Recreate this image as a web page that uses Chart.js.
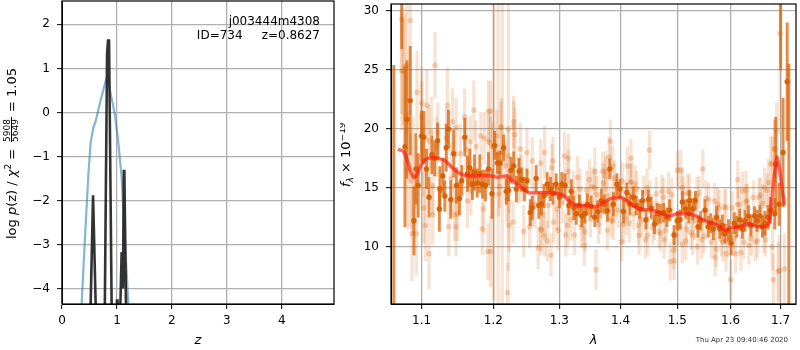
<!DOCTYPE html>
<html lang="en">
<head>
    <meta charset="UTF-8">
    <title>j003444m4308 redshift fit</title>
    <script src="https://cdn.jsdelivr.net/npm/chart.js"></script>
    <style>
        body {
            margin: 0;
            background: #fff;
        }
        canvas {
            position: absolute;
            top: 0;
        }
        #pzChart {
            left: 0;
        }
        #specChart {
            left: 340px;
        }
    </style>
</head>
<body>
    <canvas id="pzChart" width="340" height="350"></canvas>
    <canvas id="specChart" width="460" height="350"></canvas>

    <script>
        // left panel: log p(z) and the blue prior curve
        var zTicks = [0, 1, 2, 3, 4];
        var logPzTicks = [-4, -3, -2, -1, 0, 1, 2];
        var priorZ = [0.30, 0.358, 0.42, 0.478, 0.52, 0.57, 0.61, 0.69, 0.80, 0.842, 0.964, 1.02, 1.085, 1.145, 1.205, 1.23];
        var priorLogP = [-6.0, -4.33, -2.8, -1.45, -0.70, -0.345, -0.21, 0.21, 0.74, 0.70, -0.06, -0.625, -1.46, -2.9, -4.3, -5.0];
        var pzZ = [0.51, 0.565, 0.58, 0.625, 0.775, 0.82, 0.838, 0.856, 0.908, 0.985, 1.0, 1.01, 1.025, 1.05, 1.085, 1.095, 1.11, 1.125, 1.135, 1.17];
        var pzLogP = [-5, -1.88, -1.88, -5, -5, 1.33, 1.63, 1.63, -5, -5, -4.27, -4.27, -5, -5, -3.2, -3.2, -4, -1.33, -1.33, -5];

        // right panel: spectrum, flux in units of 1e-19
        var lamTicks = [1.1, 1.2, 1.3, 1.4, 1.5, 1.6, 1.7];
        var fluxTicks = [10, 15, 20, 25, 30];

        var darkLam = [1.0636, 1.0739, 1.0781, 1.0806, 1.085, 1.0899, 1.0925, 1.0955, 1.1, 1.103, 1.1066, 1.11, 1.114, 1.1177, 1.1217, 1.124, 1.1247, 1.1288, 1.1315, 1.1334, 1.1366, 1.1397, 1.1438, 1.1475, 1.1517, 1.155, 1.1592, 1.163, 1.1662, 1.17, 1.1729, 1.1768, 1.1805, 1.1843, 1.1886, 1.193,
            1.198, 1.202, 1.206, 1.21, 1.215, 1.219, 1.222, 1.226, 1.23, 1.234, 1.238, 1.242, 1.246, 1.25, 1.255, 1.258, 1.264, 1.268, 1.272, 1.276, 1.281, 1.286, 1.29, 1.295, 1.3, 1.304, 1.309, 1.315, 1.319, 1.323, 1.327, 1.332, 1.336, 1.341, 1.345,
            1.351, 1.357, 1.362, 1.368, 1.373, 1.378, 1.382, 1.388, 1.394, 1.399, 1.405, 1.411, 1.416, 1.422, 1.427, 1.433, 1.438, 1.444, 1.448, 1.453, 1.459, 1.464, 1.469, 1.475, 1.481, 1.486, 1.494, 1.5, 1.505, 1.509, 1.515, 1.521,
            1.522, 1.528, 1.533, 1.538, 1.543, 1.551, 1.557, 1.562, 1.567, 1.573, 1.579, 1.584, 1.589, 1.596, 1.601, 1.607, 1.612, 1.618, 1.623, 1.628, 1.635, 1.64, 1.647, 1.652, 1.658, 1.663, 1.668, 1.674, 1.679, 1.688, 1.697, 1.69, 1.7, 1.705, 1.7136, 1.717];
        var darkFlux = [3, 33, 18.5, 20.8, 22.4, 12.2, 16.6, 15.2, 19.4, 19.3, 16.6, 14.2, 17.8, 17.5, 19, 13.2, 14.9, 16, 14.3, 18.4, 20, 14, 17.9, 15.2, 14.1, 15.6, 19.3, 16.2, 16.7, 15.3, 16.3, 15.4, 16.2, 15.3, 15.2, 16.6,
            14.5, 18.6, 17.1, 17.1, 18.4, 14.7, 14.8, 16.5, 16.85, 14.9, 16.4, 15.7, 14.9, 15.6, 12.9, 13.3, 15.8, 13.5, 13.6, 14.3, 15.3, 14.9, 14.5, 15.3, 14.2, 15.3, 15.2, 13.5, 14.7, 13.3, 12.8, 13.5, 12.6, 12.8, 13.6,
            13.4, 12.5, 13, 13.9, 13.6, 13.05, 16.6, 13.6, 15.3, 14.9, 13, 14.6, 13.6, 14.2, 13.5, 13.2, 13.9, 12.3, 14, 13.3, 11.9, 12.8, 12.8, 12.9, 12.5, 13.1, 11, 12.2, 12.3, 13.8, 13.2, 12.8,
            13.9, 13.2, 13.9, 11.7, 12.2, 13.1, 11.7, 12, 11.5, 12.5, 11.5, 11.8, 11.1, 11.4, 10.3, 12, 11.7, 12.3, 11.5, 12.2, 12.6, 11.8, 12.6, 12.2, 12.6, 11.7, 12, 12.5, 13.1, 12.8, 13.6, 17, 32, 18, 24, 3];
        var darkErr = [22.4, 6.2, 6.8, 5, 4.6, 2.9, 3, 2.7, 2.1, 2.2, 1.7, 1.7, 1.6, 1.5, 1.5, 1.9, 1.9, 1.5, 1.3, 2, 1.6, 1.6, 2, 1.5, 1.4, 1.3, 1.6, 1.5, 1.6, 1.3, 1.5, 1.2, 1.6, 1.2, 1.3, 1.4,
            2.1, 1.2, 0.9, 1, 1.1, 1.1, 0.9, 1.1, 1.2, 1.1, 1.1, 1, 1, 1, 1.1, 1, 1.1, 1.1, 0.9, 1, 1, 1, 0.9, 0.9, 0.9, 1, 1, 0.8, 1, 1, 0.9, 0.9, 0.9, 0.8, 0.9,
            0.9, 0.8, 0.9, 1, 0.8, 0.9, 0.85, 1, 0.9, 0.8, 1, 0.8, 0.9, 0.9, 0.8, 0.8, 0.9, 0.8, 0.8, 0.9, 0.8, 0.9, 0.8, 0.8, 0.8, 0.9, 0.8, 0.8, 0.8, 0.9, 0.8, 0.8,
            0.9, 0.9, 0.8, 0.9, 0.8, 0.9, 0.9, 0.8, 0.9, 0.9, 0.8, 0.9, 0.8, 0.9, 1, 0.9, 0.9, 0.9, 0.8, 0.9, 0.9, 0.9, 0.8, 0.9, 0.9, 0.9, 1, 1, 1.1, 1.3, 1.8, 4, 7, 4.6, 5, 22.5];

        var lightLam = [1.0739, 1.085, 1.0806, 1.0739, 1.076, 1.078, 1.082, 1.086, 1.0875, 1.089, 1.093, 1.094, 1.1, 1.1, 1.102, 1.103, 1.105, 1.107, 1.11, 1.11, 1.113, 1.115, 1.115, 1.118, 1.12, 1.122, 1.134, 1.135, 1.137, 1.14, 1.142, 1.145, 1.147, 1.147, 1.149, 1.153, 1.159, 1.161, 1.163, 1.167, 1.168, 1.172, 1.175, 1.182, 1.184, 1.186, 1.187, 1.192, 1.193, 1.193,
            1.196, 1.2, 1.207, 1.213, 1.222, 1.212, 1.23, 1.211, 1.23, 1.205, 1.232, 1.196, 1.199, 1.24, 1.25, 1.222, 1.277, 1.258, 1.271, 1.29, 1.308, 1.314, 1.288, 1.218, 1.314, 1.241, 1.329, 1.209, 1.223, 1.208, 1.237, 1.258, 1.229, 1.22, 1.223, 1.245, 1.271, 1.272, 1.291, 1.313, 1.298, 1.31, 1.277, 1.281, 1.324, 1.335, 1.341, 1.267, 1.287, 1.196, 1.221, 1.34, 1.254,
            1.383, 1.45, 1.381, 1.412, 1.357, 1.375, 1.387, 1.506, 1.348, 1.375, 1.357, 1.419, 1.425, 1.446, 1.484, 1.475, 1.509, 1.385, 1.408, 1.392, 1.519, 1.363, 1.378, 1.388, 1.402, 1.405, 1.415, 1.432, 1.443, 1.447, 1.47, 1.476, 1.515, 1.509, 1.493, 1.487, 1.494, 1.359, 1.431, 1.459, 1.503, 1.35,
            1.547, 1.614, 1.688, 1.68, 1.675, 1.667, 1.63, 1.623, 1.522, 1.536, 1.569, 1.591, 1.617, 1.656, 1.663, 1.553, 1.578, 1.63, 1.537, 1.545, 1.57, 1.572, 1.528, 1.585, 1.61, 1.62, 1.636, 1.649, 1.683, 1.6, 1.685, 1.697, 1.708, 1.695, 1.666, 1.531, 1.591, 1.699, 1.692, 1.687, 1.683, 1.418, 1.5, 1.37,
            1.262, 1.275, 1.283, 1.296, 1.305, 1.318, 1.322, 1.333, 1.338, 1.344, 1.352, 1.361, 1.366, 1.371, 1.379, 1.384, 1.39, 1.396, 1.403, 1.41, 1.417, 1.423, 1.428, 1.436, 1.44, 1.451, 1.456, 1.462, 1.467, 1.472, 1.479, 1.49, 1.497, 1.511, 1.517,
            1.525, 1.54, 1.549, 1.558, 1.563, 1.575, 1.582, 1.588, 1.595, 1.603, 1.606, 1.613, 1.626, 1.633, 1.641, 1.645, 1.653, 1.659, 1.669, 1.672];
        var lightFlux = [29.3, 29.2, 25.4, 24.9, 24.9, 25.3, 16.5, 15.6, 11.1, 16, 11.1, 23.1, 22.2, 21, 17.3, 13.3, 11.8, 22, 19, 9.4, 19.7, 15.2, 12.7, 25.4, 18.5, 19.7, 19.2, 22, 11.7, 15.8, 20.6, 12.7, 20.1, 11.7, 12.8, 17.9, 21, 18.3, 13.9, 18.9, 14.7, 21.6, 18.5, 19.4, 11.5, 13.2, 19.2, 9.6, 18.9, 21.5,
            21.5, 18.5, 18, 18, 20, 20.2, 20.6, 20.1, 20.2, 19.4, 19.5, 18.8, 18.5, 18.3, 18, 17.7, 18, 17.3, 17.1, 17.3, 17.7, 17.5, 16.7, 16.9, 16.4, 15.8, 15.9, 15.1, 14.7, 14.5, 15.6, 13.5, 12.1, 14, 11.8, 11.3, 11.5, 11.4, 12.1, 11.8, 11.4, 11, 10.9, 10.5, 11, 11.7, 11.3, 9.9, 9.3, 9.6, 6.1, 10.1, 11.7,
            18.95, 18.2, 17.6, 16.85, 16.4, 16.4, 16.85, 16.5, 15.7, 16, 15, 15.5, 15.3, 15, 14.7, 14.2, 15, 13.5, 13.9, 14.1, 14.6, 11.9, 11.4, 12.2, 10.4, 11.9, 12, 10.95, 10.6, 10.95, 11.1, 10.6, 10.5, 10.2, 9.7, 8.75, 8.8, 8.05, 11.8, 12.2, 11.65, 12.35,
            16.6, 15.7, 18.3, 17, 15.45, 15, 14.8, 14.75, 14.5, 14.3, 13.9, 13.3, 13.6, 14.2, 13.7, 14.1, 13.3, 13.8, 10, 10.6, 9.1, 9.8, 10.95, 10.4, 9.4, 9.5, 10.1, 10.4, 10, 7.2, 7.2, 8, 8.1, 7.9, 11.1, 12.2, 9.4, 28.1, 19.8, 18.3, 17.1, 17.5, 16.5, 16.4,
            13.6, 12.8, 13.5, 13.2, 13.8, 12.3, 14.6, 14.9, 12.2, 14.8, 15.1, 14.4, 12.6, 15.4, 14.3, 12.3, 15.8, 13.1, 15.6, 12.4, 15.5, 12.8, 14.9, 12.2, 14.6, 14.2, 11.6, 14.5, 11.3, 14.7, 11.4, 14.4, 11, 14.5, 11.5,
            11.2, 14.6, 10.9, 14, 10.4, 13.6, 10.6, 13.4, 10.5, 13.3, 10.7, 13.6, 10.4, 13.9, 10.7, 14.2, 10.5, 14.4, 10.6, 14.8];
        var lightErr = [8, 8, 6, 5, 4.5, 4.5, 5, 4, 4, 5, 3.5, 3.5, 3, 3, 3, 3, 3, 3, 3, 3, 3, 2.5, 2.5, 2.8, 2.5, 2.5, 2.5, 3.2, 2.5, 3, 2.8, 2.2, 2.5, 2.5, 2.3, 2.5, 2.4, 2.5, 2.3, 2.2, 2, 2.5, 2.2, 2, 2.2, 2, 2.2, 2.4, 2.4, 2.6,
            2.5, 13, 13, 13, 12, 2.4, 2.2, 2.2, 2.2, 2.2, 2.3, 2.2, 2.1, 2.2, 2, 2.2, 2.2, 2, 2, 2, 2, 2.1, 2, 2, 1.8, 2, 1.8, 1.8, 1.8, 1.9, 1.9, 1.8, 1.8, 2, 2.2, 2.2, 2.2, 1.8, 1.8, 1.8, 1.7, 1.8, 1.7, 1.7, 1.7, 1.8, 1.7, 1.8, 1.8, 3, 2.5, 1.7, 1.8,
            1.8, 1.6, 1.7, 1.6, 2, 1.7, 1.7, 1.7, 1.7, 1.6, 1.6, 1.6, 1.6, 1.6, 1.6, 1.6, 1.6, 1.6, 1.6, 1.6, 1.6, 1.6, 1.7, 1.6, 1.6, 1.6, 1.6, 1.6, 1.6, 1.6, 1.5, 1.6, 1.6, 1.6, 1.6, 1.6, 1.6, 1.7, 1.6, 1.6, 1.5, 1.5,
            1.6, 1.6, 2.5, 2.4, 2, 1.7, 1.6, 1.6, 1.6, 1.6, 1.5, 1.6, 1.5, 1.6, 1.6, 1.5, 1.5, 1.5, 1.5, 1.6, 1.6, 1.5, 1.6, 1.6, 1.6, 1.5, 1.6, 1.6, 2, 1.7, 2.2, 3, 3, 2.5, 1.6, 1.6, 1.5, 8, 2.4, 2.4, 2.2, 1.6, 1.6, 1.6,
            2, 1.9, 1.9, 1.8, 1.8, 1.8, 1.8, 1.7, 1.7, 1.6, 1.6, 1.6, 1.5, 1.6, 1.5, 1.5, 1.5, 1.5, 1.5, 1.4, 1.5, 1.4, 1.5, 1.4, 1.4, 1.4, 1.4, 1.4, 1.4, 1.4, 1.4, 1.4, 1.4, 1.4, 1.4,
            1.4, 1.4, 1.4, 1.4, 1.4, 1.4, 1.4, 1.4, 1.4, 1.4, 1.4, 1.4, 1.4, 1.4, 1.4, 1.4, 1.4, 1.4, 1.4, 1.4];

        var modelLam = [1.069, 1.076, 1.081, 1.086, 1.09, 1.094, 1.1, 1.105, 1.113, 1.122, 1.132, 1.142, 1.15, 1.16, 1.175, 1.193, 1.206, 1.22, 1.228, 1.238, 1.252, 1.268, 1.282, 1.298, 1.307, 1.317, 1.327, 1.345, 1.36, 1.372, 1.385, 1.399, 1.408, 1.422, 1.433, 1.454, 1.47, 1.483, 1.5, 1.52, 1.537, 1.556, 1.572, 1.59, 1.6, 1.617, 1.636, 1.654, 1.673, 1.678, 1.683, 1.688, 1.693, 1.699, 1.708];
        var modelFlux = [18.26, 18.1, 17.4, 16.3, 15.9, 16.15, 17, 17.4, 17.55, 17.5, 17.3, 16.7, 16.3, 16.05, 16, 16.05, 15.9, 16, 15.6, 15.2, 14.6, 14.6, 14.6, 14.5, 14.3, 13.8, 13.5, 13.5, 13.4, 13.8, 14.1, 14.2, 14, 13.5, 13.2, 13.1, 12.9, 12.6, 12.8, 12.8, 12.55, 12.1, 11.9, 11.4, 11.6, 11.7, 11.95, 11.7, 11.8, 12.35, 14.5, 16.4, 17.6, 16.15, 13.5];

        var gridColor = '#b0b0b0';
        var tickFont = { family: 'DejaVu Sans', size: 12 };

        function errorBars(lam, flux, err) {
            return lam.map(function (v, i) {
                return { x: v, y: [flux[i] - err[i], flux[i] + err[i]] };
            });
        }

        function points(xs, ys) {
            return xs.map(function (v, i) {
                return { x: v, y: ys[i] };
            });
        }

        function fixedTicks(values) {
            return function (scale) {
                scale.ticks = values.map(function (v) {
                    return { value: v };
                });
            };
        }

        // keep the axes box where the reference has it
        function fixedHeight(h) {
            return function (s) {
                s.height = h;
                s.paddingLeft = 0;
                s.paddingRight = 0;
            };
        }

        function fixedWidth(w) {
            return function (s) {
                s.width = w;
                s.paddingTop = 0;
                s.paddingBottom = 0;
            };
        }

        function axisGrid() {
            return { color: gridColor, lineWidth: 1.3, tickColor: '#000', tickWidth: 1, tickLength: 5, offset: false };
        }

        function minusLabel(v) {
            return String(v).replace('-', '\u2212');
        }

        // matplotlib draws a full box around the axes
        var framePlugin = {
            id: 'frame',
            afterDatasetsDraw: function (chart) {
                var a = chart.chartArea;
                var ctx = chart.ctx;
                ctx.save();
                ctx.strokeStyle = '#000';
                ctx.lineWidth = 1.2;
                ctx.strokeRect(a.left, a.top, a.right - a.left, a.bottom - a.top);
                ctx.restore();
            }
        };

        // runs of text, each with its own font, along a rotated baseline
        function drawRuns(ctx, x, y, runs) {
            ctx.save();
            ctx.translate(x, y);
            ctx.rotate(-Math.PI / 2);
            ctx.fillStyle = '#000';
            ctx.textBaseline = 'alphabetic';
            var pos = 0;
            runs.forEach(function (r) {
                ctx.font = r.font;
                ctx.fillText(r.text, pos, r.rise || 0);
                pos += ctx.measureText(r.text).width;
            });
            ctx.restore();
        }

        var pzText = {
            id: 'pzText',
            afterDraw: function (chart) {
                var ctx = chart.ctx;
                var normal = '13px "DejaVu Sans"';
                var italic = 'italic 13px "DejaVu Sans"';
                var small = '9px "DejaVu Sans"';
                ctx.save();
                ctx.fillStyle = '#000';
                ctx.font = '12px "DejaVu Sans"';
                ctx.textAlign = 'right';
                ctx.fillText('j003444m4308', 320, 25);
                ctx.fillText('ID=734     z=0.8627', 320, 39);
                ctx.restore();

                drawRuns(ctx, 16, 239, [
                    { text: 'log ', font: normal },
                    { text: 'p', font: italic },
                    { text: '(z) / ', font: normal },
                    { text: '\u03c7', font: italic },
                    { text: '2', font: small, rise: -5 },
                    { text: ' = ', font: normal }
                ]);
                // the chi2 fraction
                drawRuns(ctx, 10, 142, [{ text: '5908', font: small }]);
                drawRuns(ctx, 18, 142, [{ text: '5649', font: small }]);
                ctx.fillStyle = '#000';
                ctx.fillRect(11, 117, 1, 25);
                drawRuns(ctx, 16, 112, [{ text: '= 1.05', font: normal }]);
            }
        };

        var specText = {
            id: 'specText',
            afterDraw: function (chart) {
                var ctx = chart.ctx;
                drawRuns(ctx, 10, 187, [
                    { text: 'f', font: 'italic 13px "DejaVu Sans"' },
                    { text: '\u03bb', font: 'italic 9px "DejaVu Sans"', rise: 3 },
                    { text: ' \u00d7 10', font: '13px "DejaVu Sans"' },
                    { text: '\u221219', font: '9px "DejaVu Sans"', rise: -5 }
                ]);
                ctx.save();
                ctx.fillStyle = '#333';
                ctx.font = '7px "DejaVu Sans"';
                ctx.textAlign = 'right';
                ctx.fillText('Thu Apr 23 09:40:46 2020', 448, 342);
                ctx.restore();
            }
        };

        new Chart(document.getElementById('pzChart'), {
            type: 'scatter',
            data: {
                datasets: [
                    { data: points(pzZ, pzLogP), showLine: true, borderColor: 'rgba(40,40,40,0.95)', borderWidth: 2.6, pointRadius: 0, tension: 0 },
                    { data: points(priorZ, priorLogP), showLine: true, borderColor: 'rgba(31,119,180,0.55)', borderWidth: 2.2, pointRadius: 0, tension: 0 }
                ]
            },
            options: {
                responsive: false,
                animation: false,
                events: [],
                layout: { padding: { top: 1, right: 6 } },
                plugins: { legend: { display: false }, tooltip: { enabled: false } },
                scales: {
                    x: {
                        type: 'linear',
                        min: 0,
                        max: 4.95,
                        afterBuildTicks: fixedTicks(zTicks),
                        afterFit: fixedHeight(46),
                        grid: axisGrid(),
                        border: { color: '#000', width: 1 },
                        ticks: { color: '#000', font: tickFont, padding: 5, maxRotation: 0, autoSkip: false },
                        title: { display: true, text: 'z', color: '#000', padding: { top: 0, bottom: 2 }, font: { family: 'DejaVu Sans', size: 13, style: 'italic' } }
                    },
                    y: {
                        min: -4.35,
                        max: 2.53,
                        afterBuildTicks: fixedTicks(logPzTicks),
                        afterFit: fixedWidth(62),
                        grid: axisGrid(),
                        border: { color: '#000', width: 1 },
                        ticks: { color: '#000', font: tickFont, padding: 7, callback: minusLabel, autoSkip: false }
                    }
                }
            },
            plugins: [framePlugin, pzText]
        });

        new Chart(document.getElementById('specChart'), {
            type: 'bar',
            data: {
                datasets: [
                    { type: 'line', order: 0, data: points(modelLam, modelFlux), borderColor: 'rgba(255,25,10,0.65)', borderWidth: 3.5, pointRadius: 0, tension: 0.25 },
                    { type: 'scatter', order: 1, data: points(darkLam, darkFlux), backgroundColor: 'rgba(217,95,2,0.95)', borderWidth: 0, pointRadius: 2.7 },
                    { order: 2, data: errorBars(darkLam, darkFlux, darkErr), backgroundColor: 'rgba(217,95,2,0.72)', barThickness: 2.3, grouped: false },
                    { type: 'scatter', order: 3, data: points(lightLam, lightFlux), backgroundColor: 'rgba(217,95,2,0.26)', borderWidth: 0, pointRadius: 2.8 },
                    { order: 4, data: errorBars(lightLam, lightFlux, lightErr), backgroundColor: 'rgba(217,95,2,0.18)', barThickness: 2.6, grouped: false }
                ]
            },
            options: {
                responsive: false,
                animation: false,
                events: [],
                layout: { padding: { top: 1, right: 1 } },
                plugins: { legend: { display: false }, tooltip: { enabled: false } },
                scales: {
                    x: {
                        type: 'logarithmic',
                        min: 1.06,
                        max: 1.732,
                        offset: false,
                        afterBuildTicks: fixedTicks(lamTicks),
                        afterFit: fixedHeight(46),
                        grid: axisGrid(),
                        border: { color: '#000', width: 1 },
                        ticks: { color: '#000', font: tickFont, padding: 5, maxRotation: 0, autoSkip: false, callback: function (v) { return v.toFixed(1); } },
                        title: { display: true, text: '\u03bb', color: '#000', padding: { top: 0, bottom: 2 }, font: { family: 'DejaVu Sans', size: 13, style: 'italic' } }
                    },
                    y: {
                        type: 'linear',
                        min: 5.14,
                        max: 30.6,
                        afterBuildTicks: fixedTicks(fluxTicks),
                        afterFit: fixedWidth(51),
                        grid: axisGrid(),
                        border: { color: '#000', width: 1 },
                        ticks: { color: '#000', font: tickFont, padding: 7, autoSkip: false }
                    }
                }
            },
            plugins: [framePlugin, specText]
        });
    </script>
</body>
</html>
